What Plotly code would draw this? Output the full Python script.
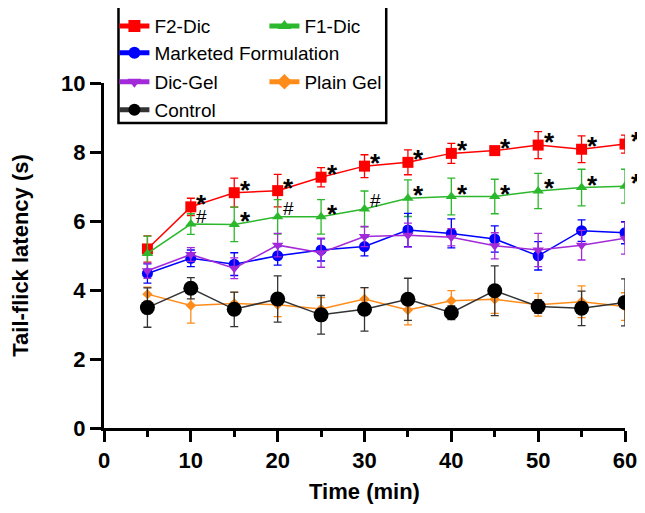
import plotly.graph_objects as go

time = [5, 10, 15, 20, 25, 30, 35, 40, 45, 50, 55, 60]

f2_mean = [5.19, 6.41, 6.82, 6.88, 7.27, 7.59, 7.70, 7.96, 8.04, 8.20, 8.08, 8.23]
f2_sd = [0.38, 0.25, 0.42, 0.47, 0.28, 0.33, 0.36, 0.29, 0.10, 0.39, 0.39, 0.26]

f1_mean = [5.06, 5.91, 5.90, 6.12, 6.12, 6.35, 6.66, 6.71, 6.71, 6.87, 6.97, 7.01]
f1_sd = [0.50, 0.30, 0.50, 0.50, 0.50, 0.52, 0.53, 0.53, 0.50, 0.51, 0.53, 0.49]

mk_mean = [4.48, 4.92, 4.75, 4.99, 5.16, 5.26, 5.74, 5.64, 5.48, 4.99, 5.72, 5.66]
mk_sd = [0.28, 0.24, 0.33, 0.27, 0.32, 0.27, 0.48, 0.42, 0.38, 0.41, 0.31, 0.32]

dg_mean = [4.56, 5.03, 4.63, 5.30, 5.08, 5.55, 5.59, 5.53, 5.28, 5.16, 5.30, 5.50]
dg_sd = [0.22, 0.20, 0.30, 0.34, 0.42, 0.29, 0.35, 0.25, 0.38, 0.48, 0.43, 0.46]

pg_mean = [3.88, 3.55, 3.61, 3.57, 3.45, 3.74, 3.42, 3.69, 3.73, 3.57, 3.66, 3.52]
pg_sd = [0.20, 0.51, 0.32, 0.34, 0.33, 0.33, 0.43, 0.29, 0.41, 0.33, 0.46, 0.40]

ct_mean = [3.49, 4.05, 3.44, 3.74, 3.28, 3.44, 3.73, 3.34, 3.98, 3.52, 3.47, 3.64]
ct_sd = [0.57, 0.31, 0.50, 0.67, 0.56, 0.63, 0.61, 0.20, 0.72, 0.20, 0.50, 0.68]

f2_marks = ["", "*", "*", "*", "*", "*", "*", "*", "*", "*", "*", "*"]
f1_marks = ["", "#", "*", "#", "*", "#", "*", "*", "*", "*", "*", "*"]

FONT = "Arial, Liberation Sans, Helvetica, sans-serif"

series = [
    ("F2-Dic", f2_mean, f2_sd, "#ff0000", "square", 11, "legend"),
    ("F1-Dic", f1_mean, f1_sd, "#2cb82c", "triangle-up", 10, "legend"),
    ("Marketed Formulation", mk_mean, mk_sd, "#0000ff", "circle", 11, "legend2"),
    ("Dic-Gel", dg_mean, dg_sd, "#a22ad8", "triangle-down", 10, "legend3"),
    ("Plain Gel", pg_mean, pg_sd, "#ff8c1a", "diamond", 8, "legend3"),
    ("Control", ct_mean, ct_sd, "#000000", "circle", 15, "legend4"),
]

fig = go.Figure()
for name, m, s, col, sym, size, leg in series:
    fig.add_trace(go.Scatter(
        x=time, y=m, name=name, mode="lines+markers",
        line=dict(color="#333333" if name == "Control" else col, width=1.5),
        marker=dict(color=col, symbol=sym, size=size),
        error_y=dict(type="data", array=s, visible=True, color="#333333" if name == "Control" else col,
                     thickness=1.3, width=4),
        legend=leg,
    ))

annotations = []
for t, m, sd, mk in zip(time, f2_mean, f2_sd, f2_marks):
    if mk:
        annotations.append(dict(x=t, y=m, text="<b>*</b>", showarrow=False, xshift=11, yshift=3,
                                font=dict(family=FONT, size=26, color="black")))
for t, m, sd, mk in zip(time, f1_mean, f1_sd, f1_marks):
    if mk:
        sz = 26 if mk == "*" else 19
        ys = 3 if mk == "*" else 8
        annotations.append(dict(x=t, y=m, text="<b>*</b>" if mk == "*" else mk, showarrow=False,
                                xshift=11, yshift=ys,
                                font=dict(family=FONT, size=sz, color="black")))

leg_common = dict(orientation="h", entrywidth=105, entrywidthmode="pixels",
                  font=dict(family=FONT, size=19, color="black"),
                  bgcolor="rgba(0,0,0,0)", xanchor="left", yanchor="middle",
                  itemsizing="constant", x=0.02)

# page body has an 8px margin, so the figure is drawn at (8, 8) in the window
fig.update_layout(
    width=637, height=505,
    margin=dict(l=95.5, r=20, t=75, b=85, autoexpand=False),
    paper_bgcolor="white", plot_bgcolor="white",
    font=dict(family=FONT, color="black"),
    showlegend=True,
    legend=dict(leg_common, y=1.165),
    legend2=dict(leg_common, y=1.087, entrywidth=300),
    legend3=dict(leg_common, y=1.003),
    legend4=dict(leg_common, y=0.922),
    annotations=annotations,
    shapes=[dict(type="rect", xref="paper", yref="paper", x0=0.0278, x1=0.5417, y0=0.884, y1=1.226,
                 line=dict(color="black", width=2.5))],
    xaxis=dict(range=[0, 60], tickvals=[0, 10, 20, 30, 40, 50, 60], showgrid=False, zeroline=False,
               showline=True, linecolor="black", linewidth=3, ticks="outside", ticklen=11, tickwidth=3,
               tickcolor="black",
               minor=dict(tickvals=[5, 15, 25, 35, 45, 55], ticks="outside", ticklen=6, tickwidth=3,
                          tickcolor="black"),
               tickfont=dict(family=FONT, size=22, color="black", weight="bold"),
               title=dict(text="<b>Time (min)</b>", font=dict(family=FONT, size=22, color="black"),
                          standoff=12)),
    yaxis=dict(range=[0, 10], tickvals=[0, 2, 4, 6, 8, 10], showgrid=False, zeroline=False,
               showline=True, linecolor="black", linewidth=3, ticks="outside", ticklen=11, tickwidth=3,
               tickcolor="black",
               tickfont=dict(family=FONT, size=22, color="black", weight="bold"),
               title=dict(text="<b>Tail-flick latency (s)</b>", font=dict(family=FONT, size=22, color="black"),
                          standoff=36)),
)

fig.write_html("out.html")
